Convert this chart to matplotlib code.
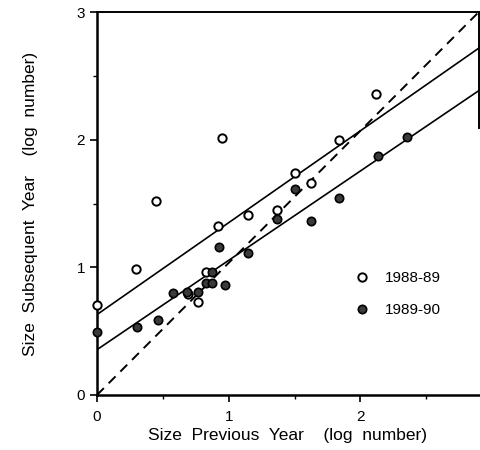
import matplotlib
matplotlib.use("Agg")
import matplotlib.pyplot as plt
import numpy as np
from matplotlib.lines import Line2D

plt.rcParams['font.family'] = ['Liberation Sans', 'DejaVu Sans']

# 1988-89 (open circles)
x_8889 = [0.0, 0.294, 0.45, 0.95, 0.826, 0.77, 0.69, 0.92, 1.146, 1.37, 1.505, 1.627, 1.835, 2.12]
y_8889 = [0.705, 0.99, 1.52, 2.01, 0.963, 0.73, 0.79, 1.326, 1.41, 1.45, 1.735, 1.66, 2.0, 2.36]

# 1989-90 (filled circles)
x_8990 = [0.0, 0.30, 0.466, 0.58, 0.68, 0.77, 0.829, 0.876, 0.876, 0.968, 0.925, 1.15, 1.37, 1.505, 1.627, 1.84, 2.13, 2.355]
y_8990 = [0.496, 0.535, 0.587, 0.80, 0.81, 0.81, 0.875, 0.875, 0.963, 0.861, 1.157, 1.11, 1.375, 1.61, 1.36, 1.54, 1.87, 2.02]

# regression lines (intercept, slope)
fit_8889 = (0.63, 0.72)
fit_8990 = (0.355, 0.70)

labels = ["1988-89", "1989-90"]
xticks = [0, 1, 2]
yticks = [0, 1, 2, 3]

fig = plt.figure(figsize=(4.81, 4.5), dpi=100)
ax = fig.add_axes([97/481, 55/450, 382/481, 383/450])

xmax = 2.9
ax.set_xlim(0, xmax)
ax.set_ylim(0, 3)

xs = np.array([0, xmax])
ax.plot(xs, fit_8889[0] + fit_8889[1]*xs, color='black', lw=1.2)
ax.plot(xs, fit_8990[0] + fit_8990[1]*xs, color='black', lw=1.2)
ax.plot([0, xmax], [0, xmax*1.035], color='black', lw=1.4, ls=(0, (5, 3.5)))

ax.scatter(x_8889, y_8889, s=36, facecolor='white', edgecolor='black', linewidths=1.4, zorder=3, clip_on=False)
ax.scatter(x_8990, y_8990, s=36, facecolor='#3a3a3a', edgecolor='black', linewidths=1.2, zorder=3, clip_on=False)

ax.set_xticks(xticks)
ax.set_yticks(yticks)
ax.set_xticks([0.5, 1.5, 2.5], minor=True)
ax.set_yticks([0.5, 1.5, 2.5], minor=True)
ax.tick_params(axis='both', which='major', direction='out', length=5, width=1.2, labelsize=11)
ax.tick_params(axis='both', which='minor', direction='out', length=3, width=1.0)
ax.tick_params(axis='x', pad=6)

for side in ['left', 'bottom']:
    ax.spines[side].set_linewidth(1.8)
ax.spines['top'].set_linewidth(1.4)
ax.spines['right'].set_linewidth(1.4)
ax.spines['right'].set_bounds(2.09, 3)

ax.set_xlabel("Size  Previous  Year    (log  number)", fontsize=12.5, labelpad=3)
ax.set_ylabel("Size  Subsequent  Year    (log  number)", fontsize=12.5, labelpad=28)

handles = [
    Line2D([], [], ls='none', marker='o', markersize=6, markerfacecolor='white', markeredgecolor='black', markeredgewidth=1.4),
    Line2D([], [], ls='none', marker='o', markersize=6, markerfacecolor='#3a3a3a', markeredgecolor='black', markeredgewidth=1.2),
]
ax.legend(handles, labels, loc='upper left', bbox_to_anchor=(0.637, 0.36), frameon=False,
          fontsize=11, handletextpad=1.0, labelspacing=1.2, handlelength=1.0)

fig.savefig("out.png", dpi=100)
